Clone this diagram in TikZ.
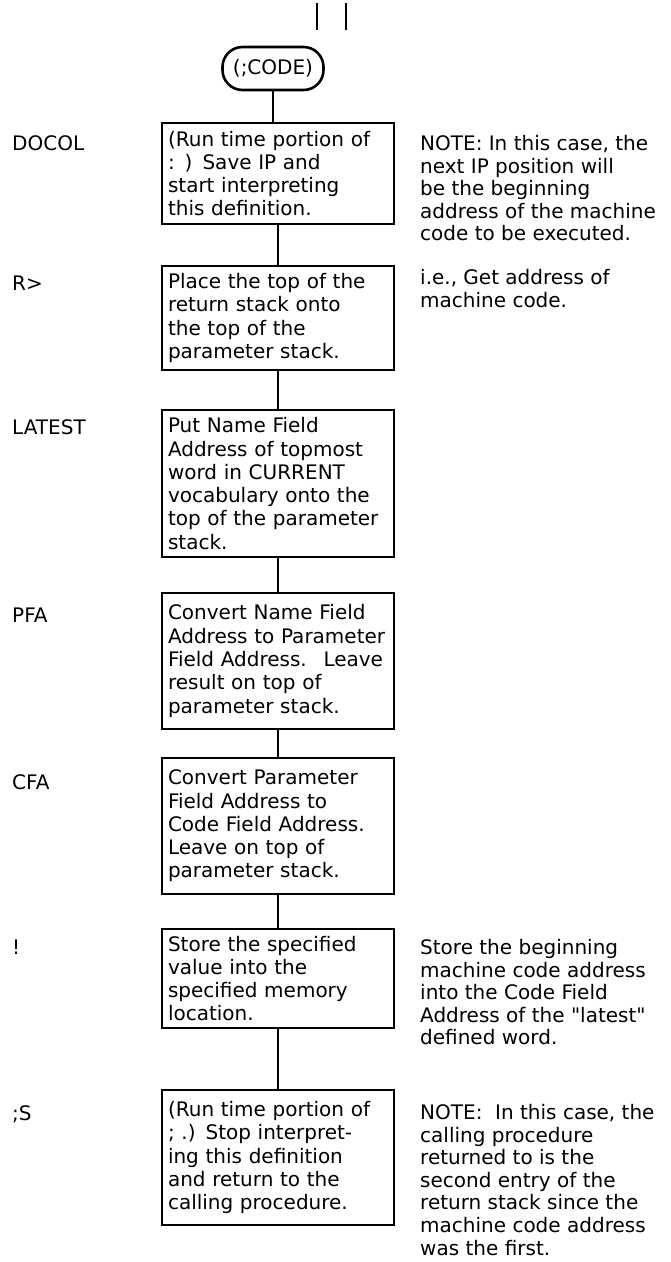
\documentclass[tikz,border=0pt]{standalone}
\usepackage{fontspec}
\setmainfont{DejaVu Sans}[Ligatures=TeXOff]
\usepackage{tikz}
\usetikzlibrary{positioning}
\hyphenpenalty=10000
\exhyphenpenalty=10000
\tikzset{%
        x = 1pt,
        y = -1pt,
        font = \fontsize{20}{23.3}\selectfont
}
\tikzstyle{block}=[
    draw = black,
    line width = 2.6pt,
    outer sep = 0pt,
    text width = 220pt,
    inner xsep = 6pt,
    inner ysep = 5pt,
    align = left
]
\tikzstyle{term}=[
    draw = black,
    line width = 2.6pt,
    outer sep = 0pt,
    rounded corners = 20pt,
    minimum width = 101pt,
    minimum height = 43pt,
    inner sep = 0pt
]
\tikzstyle{word}=[anchor = base west, inner sep = 0pt]
\tikzstyle{note}=[anchor = north west, inner sep = 0pt, align = left,
    font = \fontsize{20}{22.6}\selectfont]
\tikzstyle{every edge}=[
    draw = black,
    line width = 2.8pt
]

\begin{document}
\begin{tikzpicture}
        \useasboundingbox (0,0) rectangle (670,1262);
        \draw[line width=2.6pt] (317,3) -- (317,30) (346,3) -- (346,30);
        \node[term] (code) at (273,68.5) {(;CODE)};
        \node[block, anchor=north, minimum height=101pt] (docol) at (278,123)
            {(Run time portion of\\: ) Save IP and\\start interpreting\\this definition.};
        \node[block, minimum height=104pt, below=42pt of docol] (rfrom)
            {Place the top of the\\return stack onto\\the top of the\\parameter stack.};
        \node[block, minimum height=147pt, below=40pt of rfrom] (latest)
            {Put Name Field\\Address of topmost\\word in CURRENT\\vocabulary onto the\\top of the parameter\\stack.};
        \node[block, minimum height=136pt, below=36pt of latest] (pfa)
            {Convert Name Field\\Address to Parameter\\Field Address.~ Leave\\result on top of\\parameter stack.};
        \node[block, minimum height=136pt, below=29pt of pfa] (cfa)
            {Convert Parameter\\Field Address to\\Code Field Address.\\Leave on top of\\parameter stack.};
        \node[block, minimum height=99pt, below=35pt of cfa] (store)
            {Store the specified\\value into the\\specified memory\\location.};
        \node[block, minimum height=135pt, below=62pt of store] (semis)
            {(Run time portion of\\; .) Stop interpret-\\ing this definition\\and return to the\\calling procedure.};

        \node[word] (wdocol) at (12,150) {DOCOL};
        \node[word] (wrfrom) at (12,290) {R>};
        \node[word] (wlatest) at (12,434) {LATEST};
        \node[word] (wpfa) at (12,622) {PFA};
        \node[word] (wcfa) at (12,789) {CFA};
        \node[word] (wstore) at (12,954) {!};
        \node[word] (wsemis) at (12,1120) {;S};

        \node[note] (ndocol) at (420,135)
            {NOTE: In this case, the\\next IP position will\\be the beginning\\address of the machine\\code to be executed.};
        \node[note] (nrfrom) at (420,269)
            {i.e., Get address of\\machine code.};
        \node[note] (nstore) at (420,939)
            {Store the beginning\\machine code address\\into the Code Field\\Address of the "latest"\\defined word.};
        \node[note] (nsemis) at (420,1104)
            {NOTE:~ In this case, the\\calling procedure\\returned to is the\\second entry of the\\return stack since the\\machine code address\\was the first.};

      \path
      (code.south) edge (code.south |- docol.north)
      (docol) edge (rfrom)
      (rfrom) edge (latest)
      (latest) edge (pfa)
      (pfa) edge (cfa)
      (cfa) edge (store)
      (store) edge (semis)
      ;
    \end{tikzpicture}
\end{document}
